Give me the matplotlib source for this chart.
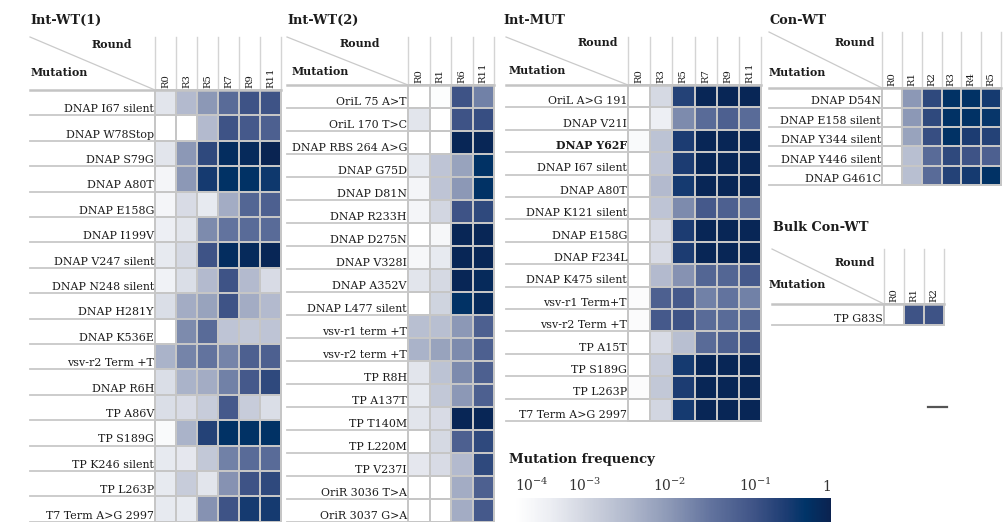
import numpy as np
import matplotlib.pyplot as plt
from matplotlib.colors import LinearSegmentedColormap, FuncNorm
from matplotlib.cm import ScalarMappable
from matplotlib.lines import Line2D

plt.rcParams['font.family'] = ['DejaVu Serif']
plt.rcParams['mathtext.fontset'] = 'dejavuserif'
TXT = '#1c1c1c'

# ---- data: mutation frequency per round ----
wt1_rows = ["DNAP I67 silent", "DNAP W78Stop", "DNAP S79G", "DNAP A80T", "DNAP E158G",
            "DNAP I199V", "DNAP V247 silent", "DNAP N248 silent", "DNAP H281Y", "DNAP K536E",
            "vsv-r2 Term +T", "DNAP R6H", "TP A86V", "TP S189G", "TP K246 silent",
            "TP L263P", "T7 Term A>G 2997"]
wt1_cols = ["R0", "R3", "R5", "R7", "R9", "R11"]
wt1_vals = [
    [5e-4, 3e-3, 1e-2, 4e-2, 0.1, 0.1],
    [0, 0, 3e-3, 0.1, 0.08, 0.06],
    [5e-4, 1e-2, 0.15, 0.6, 0.7, 0.9],
    [2e-4, 1e-2, 0.3, 0.5, 0.5, 0.35],
    [2e-4, 8e-4, 4e-4, 5e-3, 5e-2, 6e-2],
    [3e-4, 5e-4, 1.5e-2, 3e-2, 4e-2, 4e-2],
    [4e-4, 9e-4, 0.1, 0.6, 0.7, 0.8],
    [2.5e-4, 7e-4, 3e-3, 0.1, 3e-3, 8e-4],
    [7e-4, 5e-3, 7e-3, 0.1, 5e-3, 3e-3],
    [0, 1.5e-2, 4e-2, 2e-3, 1.8e-3, 2e-3],
    [4e-3, 1.8e-2, 3e-2, 1.8e-2, 6e-2, 6e-2],
    [7e-4, 4e-3, 5e-3, 2e-2, 8e-2, 0.15],
    [7e-4, 8e-4, 1.5e-3, 8e-2, 1.5e-3, 7e-4],
    [1.5e-4, 4e-3, 0.2, 0.5, 0.5, 0.5],
    [4e-4, 4.5e-4, 1.8e-3, 2e-2, 4e-2, 4e-2],
    [4e-4, 1.5e-3, 5e-4, 1.2e-2, 0.1, 0.15],
    [4e-4, 4e-4, 1.2e-2, 0.1, 0.3, 0.3],
]

wt2_rows = ["OriL 75 A>T", "OriL 170 T>C", "DNAP RBS 264 A>G", "DNAP G75D", "DNAP D81N",
            "DNAP R233H", "DNAP D275N", "DNAP V328I", "DNAP A352V", "DNAP L477 silent",
            "vsv-r1 term +T", "vsv-r2 term +T", "TP R8H", "TP A137T", "TP T140M",
            "TP L220M", "TP V237I", "OriR 3036 T>A", "OriR 3037 G>A"]
wt2_cols = ["R0", "R1", "R6", "R11"]
wt2_vals = [
    [0, 1.2e-4, 0.1, 2e-2],
    [5e-4, 0, 0.1, 0.12],
    [0, 0, 0.8, 0.8],
    [4e-4, 2e-3, 7e-3, 0.5],
    [2e-4, 2e-3, 1e-2, 0.5],
    [2e-4, 1e-3, 0.1, 0.15],
    [0, 1.8e-4, 0.8, 0.8],
    [1.8e-4, 4e-4, 0.8, 0.8],
    [5e-4, 9e-4, 0.8, 0.7],
    [0, 1.1e-3, 0.5, 0.7],
    [2.5e-3, 2.5e-3, 1e-2, 6e-2],
    [4e-3, 7e-3, 1.5e-2, 6e-2],
    [5e-4, 2.2e-3, 1.5e-2, 6e-2],
    [4e-4, 1.8e-3, 1e-2, 6e-2],
    [5e-4, 8e-4, 0.8, 0.8],
    [0, 9e-4, 6e-2, 0.15],
    [4.5e-4, 8e-4, 3e-3, 0.15],
    [0, 0, 5e-3, 6e-2],
    [0, 0, 5e-3, 8e-2],
]

mut_rows = ["OriL A>G 191", "DNAP V21I", "DNAP Y62F", "DNAP I67 silent", "DNAP A80T",
            "DNAP K121 silent", "DNAP E158G", "DNAP F234L", "DNAP K475 silent",
            "vsv-r1 Term+T", "vsv-r2 Term +T", "TP A15T", "TP S189G", "TP L263P",
            "T7 Term A>G 2997"]
mut_cols = ["R0", "R3", "R5", "R7", "R9", "R11"]
mut_vals = [
    [0, 9e-4, 0.2, 0.8, 0.8, 0.8],
    [0, 3e-4, 1.5e-2, 4e-2, 6e-2, 4e-2],
    [1.5e-4, 2.2e-3, 0.25, 0.8, 0.8, 0.8],
    [0, 2e-3, 0.25, 0.8, 0.8, 0.8],
    [0, 3e-3, 0.3, 0.8, 0.8, 0.8],
    [0, 2e-3, 1.5e-2, 8e-2, 6e-2, 5e-2],
    [0, 8e-4, 0.25, 0.8, 0.8, 0.8],
    [0, 8e-4, 0.25, 0.8, 0.8, 0.8],
    [0, 3e-3, 1.2e-2, 5e-2, 5e-2, 8e-2],
    [1.3e-4, 6e-2, 8e-2, 2e-2, 3e-2, 2e-2],
    [1.3e-4, 8e-2, 0.1, 4e-2, 4e-2, 5e-2],
    [0, 8e-4, 2.5e-3, 4e-2, 6e-2, 0.1],
    [0, 1.5e-3, 0.3, 0.8, 0.8, 0.8],
    [1.3e-4, 1.8e-3, 0.25, 0.8, 0.8, 0.8],
    [0, 1e-3, 0.3, 0.8, 0.8, 0.8],
]

con_rows = ["DNAP D54N", "DNAP E158 silent", "DNAP Y344 silent", "DNAP Y446 silent", "DNAP G461C"]
con_cols = ["R0", "R1", "R2", "R3", "R4", "R5"]
con_vals = [
    [0, 1e-2, 0.15, 0.5, 0.5, 0.3],
    [0, 1e-2, 0.15, 0.5, 0.5, 0.4],
    [0, 7e-3, 0.12, 0.5, 0.25, 0.2],
    [0, 2.5e-3, 4e-2, 0.15, 0.1, 6e-2],
    [0, 2.5e-3, 4e-2, 0.2, 0.3, 0.5],
]

bulk_rows = ["TP G83S"]
bulk_cols = ["R0", "R1", "R2"]
bulk_vals = [[0, 0.1, 0.1]]

# ---- colour scale ----
log_stops = [-4, -3, -2, -1, 0]
pos_stops = [0, 0.22, 0.49, 0.76, 1]


def fwd(x):
    return np.interp(np.log10(np.clip(np.asarray(x, dtype=float), 1e-4, 1)), log_stops, pos_stops)


def inv(p):
    return 10 ** np.interp(np.asarray(p, dtype=float), pos_stops, log_stops)


norm = FuncNorm((fwd, inv), vmin=1e-4, vmax=1)
cmap = LinearSegmentedColormap.from_list('mutfreq', [
    (0.0, '#ffffff'), (0.11, '#eceef3'), (0.22, '#d2d6e1'), (0.36, '#b0b8cc'),
    (0.49, '#8c98b6'), (0.62, '#62739e'), (0.76, '#3e5386'), (0.86, '#1c3c72'),
    (0.92, '#003468'), (1.0, '#0b2250')])

W, H = 1006, 522
fig = plt.figure(figsize=(W / 100, H / 100), dpi=100)

LABEL_FS = 7.9


def rect(x0, y0, x1, y1):
    return [x0 / W, 1 - y1 / H, (x1 - x0) / W, (y1 - y0) / H]


def panel(title, rows, cols, vals, x0, gl, gr, head_top, gt, row_h,
          title_x, title_y, round_dx, round_y, mut_x, mut_y, bold=()):
    ncol, nrow = len(cols), len(rows)
    col_w = (gr - gl) / ncol
    gb = gt + nrow * row_h
    ax = fig.add_axes(rect(x0, head_top, gr, gb))
    xmin = -(gl - x0) / col_w
    ytop = -(gt - head_top) / row_h
    ax.set_xlim(xmin, ncol)
    ax.set_ylim(nrow, ytop)
    ax.axis('off')

    ax.pcolormesh(np.arange(ncol + 1), np.arange(nrow + 1), np.array(vals),
                  cmap=cmap, norm=norm, edgecolors='#c6c6c6', linewidth=1.3,
                  clip_on=False)

    # header: column rules, diagonal and labels
    for j in range(ncol + 1):
        ax.plot([j, j], [ytop, 0], color='#d4d4d4', lw=1, clip_on=False)
    ax.plot([xmin, 0], [ytop, 0], color='#cacaca', lw=0.9, clip_on=False)
    ax.plot([xmin, ncol], [0, 0], color='#c4c4c4', lw=1.8, clip_on=False)
    for j, c in enumerate(cols):
        ax.text(j + 0.5, -2 / row_h, c, rotation=90, ha='center', va='bottom',
                fontsize=7.2, color=TXT)
    ax.text(-round_dx / col_w, (round_y - gt) / row_h, 'Round', ha='right',
            va='center', fontsize=LABEL_FS, fontweight='bold', color=TXT)
    ax.text((mut_x - gl) / col_w, (mut_y - gt) / row_h, 'Mutation', ha='left',
            va='center', fontsize=LABEL_FS, fontweight='bold', color=TXT)

    # row labels and separators
    for i, r in enumerate(rows):
        ax.plot([xmin, 0], [i + 1, i + 1], color='#c8c8c8', lw=1.3, clip_on=False)
        ax.text(-1 / col_w, i + 1 - 1.2 / row_h, r, ha='right', va='bottom',
                fontsize=LABEL_FS, color=TXT,
                fontweight='bold' if r in bold else 'normal')

    fig.text(title_x / W, 1 - title_y / H, title, ha='left', va='baseline',
             fontsize=9.3, fontweight='bold', color=TXT)


panel("Int-WT(1)", wt1_rows, wt1_cols, wt1_vals, 30, 155, 281, 37, 90, 25.4,
      30, 24, 23, 44, 31, 72)
panel("Int-WT(2)", wt2_rows, wt2_cols, wt2_vals, 287, 408, 494, 37, 85, 23.0,
      287, 24, 28, 44, 292, 72)
panel("Int-MUT", mut_rows, mut_cols, mut_vals, 506, 628, 761, 37, 85, 22.4,
      503, 24, 10, 43, 509, 71, bold=("DNAP Y62F",))
panel("Con-WT", con_rows, con_cols, con_vals, 769, 882, 1001, 32, 88, 19.5,
      769, 24, 7, 43, 769, 72)
panel("Bulk Con-WT", bulk_rows, bulk_cols, bulk_vals, 772, 884, 944, 249, 304, 21,
      773, 231, 9, 263, 769, 285)

# small dash on the right
fig.add_artist(Line2D([928 / W, 947 / W], [1 - 407 / H] * 2, color='#555555', lw=1.6))

# colour bar
fig.text(509 / W, 1 - 460 / H, "Mutation frequency", ha='left', va='center',
         fontsize=9.5, fontweight='bold', color=TXT)
cax = fig.add_axes(rect(515, 498, 831, 522))
cb = fig.colorbar(ScalarMappable(norm=norm, cmap=cmap), cax=cax, orientation='horizontal')
cb.outline.set_visible(False)
cax.xaxis.set_ticks_position('top')
cax.set_xticks([1e-4, 1e-3, 1e-2, 1e-1, 1])
cax.set_xticklabels([r'10$^{-4}$', r'10$^{-3}$', r'10$^{-2}$', r'10$^{-1}$', '1'])
cax.tick_params(axis='x', length=0, pad=3, labelsize=10, colors='#333333')
cax.minorticks_off()
labels = cax.get_xticklabels()
labels[0].set_ha('left')
labels[0].set_x(labels[0].get_position()[0])
labels[-1].set_ha('right')

fig.savefig("out.png", dpi=100)
